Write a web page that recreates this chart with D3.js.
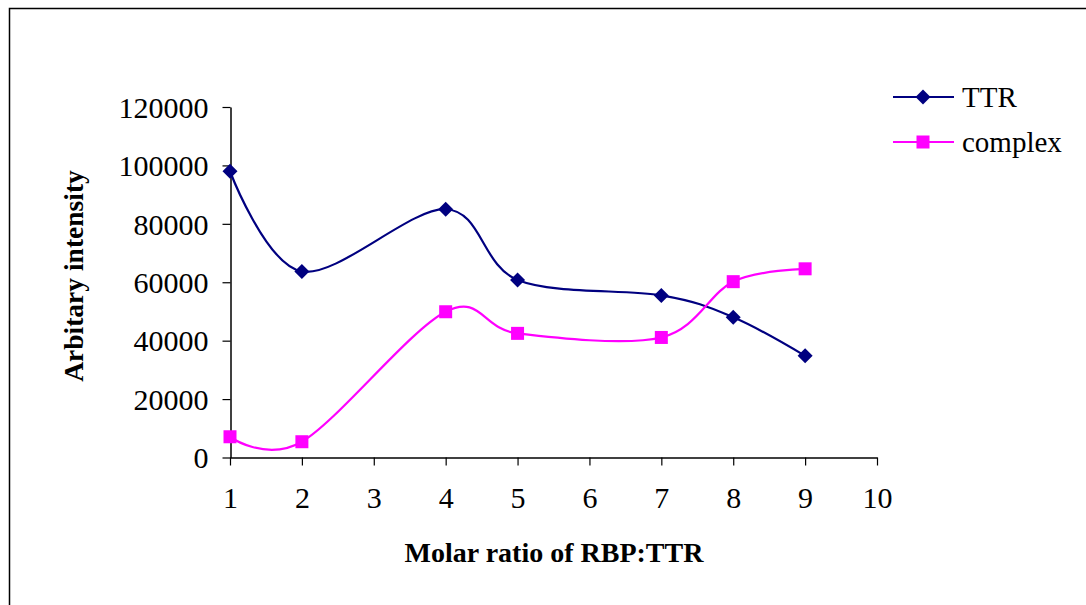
<!DOCTYPE html>
<html><head><meta charset="utf-8">
<script src="https://cdn.jsdelivr.net/npm/d3@7"></script>
<style>body{margin:0;background:#fff}svg{display:block}text{font-family:"Liberation Serif","Times New Roman",serif;fill:#000}</style>
</head><body>
<svg id="c" width="1086" height="605"></svg>
<script>
const xValues = [1, 2, 4, 5, 7, 8, 9];
const ttrValues = [98000, 63700, 85000, 60800, 55500, 48000, 34800];
const complexValues = [7100, 5400, 49900, 42500, 41100, 60200, 64600];
const xTicks = [1, 2, 3, 4, 5, 6, 7, 8, 9, 10];
const yTicks = [0, 20000, 40000, 60000, 80000, 100000, 120000];
const seriesNames = ["TTR", "complex"];
const seriesColors = ["#000080", "#FF00FF"];

const svg = d3.select("#c");
svg.append("rect").attr("x", 9.5).attr("y", 8.5).attr("width", 1100).attr("height", 620)
  .attr("fill", "none").attr("stroke", "#000").attr("stroke-width", 1.5);

const x = d3.scaleLinear().domain([1, 10]).range([230, 877]);
const y = d3.scaleLinear().domain([0, 120000]).range([457.5, 107]);

const gx = svg.append("g").attr("transform", "translate(0,457.5)")
  .call(d3.axisBottom(x).tickValues(xTicks).tickFormat(d3.format("d")).tickSize(8).tickPadding(21).tickSizeOuter(0));
const gy = svg.append("g").attr("transform", "translate(230.5,0)")
  .call(d3.axisLeft(y).tickValues(yTicks).tickFormat(d3.format("d")).tickSize(8).tickPadding(14).tickSizeOuter(0));
[gx, gy].forEach(g => {
  g.select(".domain").attr("stroke", "#000").attr("stroke-width", 1.5);
  g.selectAll(".tick line").attr("stroke", "#000").attr("stroke-width", 1.2);
  g.selectAll(".tick text").attr("font-size", 30).attr("font-family", "Liberation Serif").attr("fill", "#000");
});
gy.selectAll(".tick text").attr("dy", "0.34em");

const line = d3.line().x((d, i) => x(xValues[i])).y(d => y(d)).curve(d3.curveCardinal.tension(0));
const series = [ttrValues, complexValues];
series.forEach((vals, si) => {
  svg.append("path").attr("d", line(vals)).attr("fill", "none")
    .attr("stroke", seriesColors[si]).attr("stroke-width", 2.2);
});
const diamond = (cx, cy, s) => `M${cx},${cy - s}L${cx + s},${cy}L${cx},${cy + s}L${cx - s},${cy}Z`;
function marker(g, si, cx, cy) {
  if (si === 0) g.append("path").attr("d", diamond(cx, cy, 7.5)).attr("fill", seriesColors[0]);
  else g.append("rect").attr("x", cx - 6.5).attr("y", cy - 6.5).attr("width", 13).attr("height", 13).attr("fill", seriesColors[1]);
}
series.forEach((vals, si) => {
  const g = svg.append("g");
  vals.forEach((v, i) => marker(g, si, x(xValues[i]), y(v)));
});

// legend
seriesNames.forEach((name, si) => {
  const ly = 97 + si * 45;
  svg.append("line").attr("x1", 893).attr("x2", 954).attr("y1", ly).attr("y2", ly)
    .attr("stroke", seriesColors[si]).attr("stroke-width", 2.2);
  marker(svg, si, 923, ly);
  svg.append("text").attr("x", 962).attr("y", ly + 10).attr("font-size", 29).text(name);
});

svg.append("text").attr("x", 554).attr("y", 562).attr("text-anchor", "middle")
  .attr("font-size", 28).attr("font-weight", "bold").text("Molar ratio of RBP:TTR");
svg.append("text").attr("transform", "translate(83,276) rotate(-90)").attr("text-anchor", "middle")
  .attr("font-size", 27.5).attr("font-weight", "bold").text("Arbitary intensity");
</script>
</body></html>
